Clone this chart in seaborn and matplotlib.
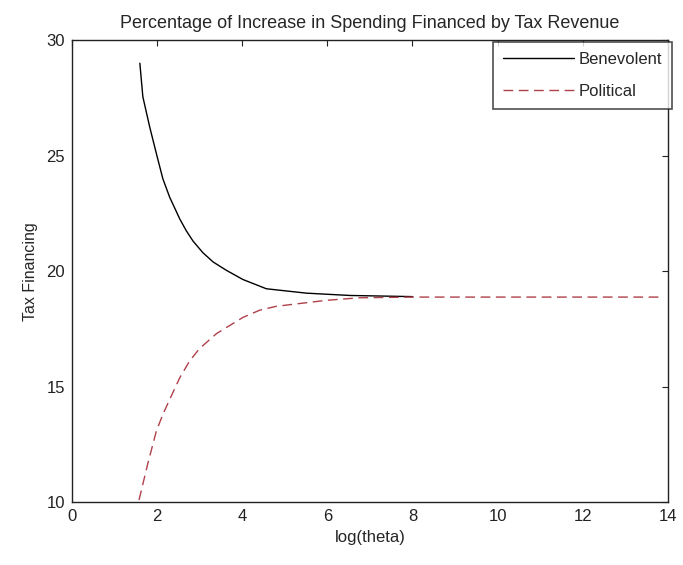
import matplotlib
matplotlib.use("Agg")
import matplotlib.pyplot as plt
import pandas as pd
import seaborn as sns

# Values
benevolent_x = [1.6, 1.67, 1.83, 2.0, 2.14, 2.3, 2.54, 2.69, 2.85, 3.08, 3.32, 3.63,
                4.02, 4.57, 5.51, 6.53, 8.0]
benevolent_y = [29.0, 27.55, 26.25, 25.0, 24.0, 23.2, 22.25, 21.75, 21.3, 20.8, 20.4, 20.04,
                19.64, 19.24, 19.05, 18.95, 18.9]

political_x = [1.58, 1.79, 1.99, 2.14, 2.3, 2.54, 2.77, 3.0, 3.4, 4.02, 4.41, 4.8, 5.98,
               6.76, 8.0, 10.0, 13.85]
political_y = [10.1, 11.7, 13.1, 13.8, 14.45, 15.4, 16.12, 16.65, 17.3, 18.0, 18.31, 18.48,
               18.74, 18.85, 18.88, 18.88, 18.88]

x_ticks = [0, 2, 4, 6, 8, 10, 12, 14]
y_ticks = [10, 15, 20, 25, 30]


def main():
    sns.set_style("white")
    plt.rcParams["font.family"] = ["Liberation Sans", "DejaVu Sans"]

    data = pd.concat([
        pd.DataFrame({"x": benevolent_x, "y": benevolent_y, "model": "Benevolent"}),
        pd.DataFrame({"x": political_x, "y": political_y, "model": "Political"}),
    ])

    fig = plt.figure(figsize=(6.83, 5.65), dpi=100)
    ax = fig.add_axes([0.105, 0.111, 0.873, 0.818])

    sns.lineplot(
        data=data, x="x", y="y", hue="model", style="model",
        palette={"Benevolent": "black", "Political": "#b0404a"},
        dashes={"Benevolent": "", "Political": (7, 4)},
        sort=False, linewidth=1.0, ax=ax,
    )

    ax.set_xlim(0, 14)
    ax.set_ylim(10, 30)
    ax.set_xticks(x_ticks)
    ax.set_yticks(y_ticks)
    ax.tick_params(direction="in", top=True, right=True, length=4,
                   labelsize=12, colors="#222222", width=0.8, pad=5)
    for spine in ax.spines.values():
        spine.set_color("#222222")
        spine.set_linewidth(1.0)

    ax.set_title("Percentage of Increase in Spending Financed by Tax Revenue",
                 fontsize=13, pad=9)
    ax.set_xlabel("log(theta)", fontsize=12, labelpad=4)
    ax.set_ylabel("Tax Financing", fontsize=11.5, labelpad=6)

    leg = ax.legend(loc="upper right", bbox_to_anchor=(1.007, 0.996), fontsize=12,
                    frameon=True, fancybox=False, borderaxespad=0.0, borderpad=0.6,
                    labelspacing=1.0, handlelength=4.3, handletextpad=0.25)
    leg.get_frame().set_edgecolor("#222222")
    leg.get_frame().set_linewidth(1.2)

    fig.savefig("out.png", dpi=100)


if __name__ == "__main__":
    main()
